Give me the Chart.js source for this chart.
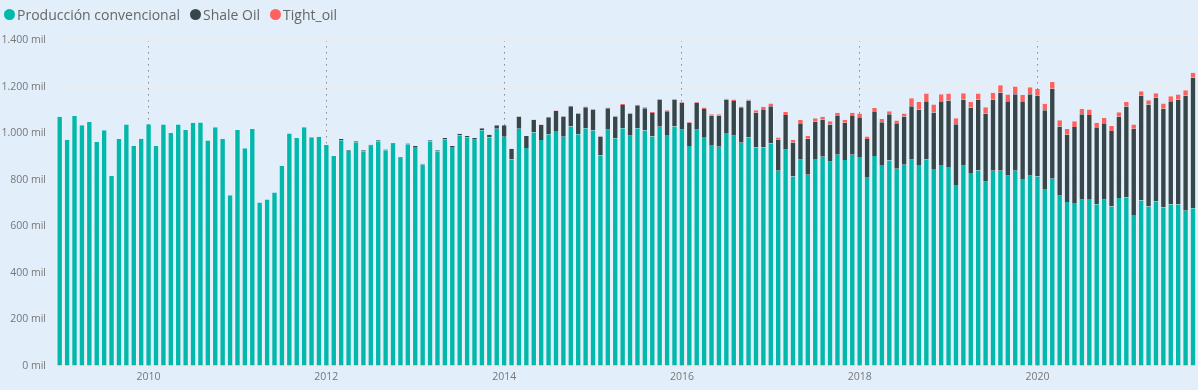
<!DOCTYPE html>
<html>
<head>
<meta charset="utf-8">
<script src="https://cdn.jsdelivr.net/npm/chart.js@4.4.0/dist/chart.umd.min.js"></script>
<style>
  html, body { margin:0; padding:0; background:#E2EEFA; }
  #wrap { position:relative; width:1198px; height:390px; }
  #legend { position:absolute; top:5px; left:4px; font-family:"Open Sans", sans-serif; font-size:14px; color:#666; display:flex; align-items:center; white-space:nowrap; }
  #legend span.item { display:flex; align-items:center; margin-right:10px; }
  #legend span.dot { width:11px; height:11px; border-radius:50%; display:inline-block; margin-right:2px; }
</style>
</head>
<body>
<div id="wrap">
  <canvas id="c" width="1198" height="390"></canvas>
  <div id="legend"></div>
</div>
<script>
// ---- Data (thousands), monthly from Jan 2009 ----
const startYear = 2009;
const seriesNames = ["Producción convencional", "Shale Oil", "Tight_oil"];
const seriesColors = ["#01B8AA", "#374649", "#FD625E"];

const convencional = [
  1070, 971, 1074, 1034, 1048, 962, 1012, 816, 975, 1037, 945, 976,
  1038, 945, 1037, 1001, 1037, 1014, 1045, 1046, 968, 1025, 975, 733,
  1014, 935, 1018, 702, 715, 745, 859, 998, 979, 1025, 982, 985,
  949, 902, 970, 924, 961, 922, 946, 965, 926, 954, 893, 952,
  941, 865, 964, 921, 974, 940, 991, 982, 972, 1012, 981, 1019,
  985, 887, 1019, 936, 1003, 971, 995, 1009, 985, 1028, 995, 1021,
  1011, 904, 1015, 978, 1021, 989, 1021, 1011, 986, 1027, 992, 1029,
  1015, 945, 1015, 983, 949, 942, 1001, 989, 959, 982, 938, 938,
  956, 839, 929, 814, 886, 821, 889, 899, 877, 907, 885, 907,
  898, 812, 902, 863, 883, 847, 864, 886, 863, 888, 846, 863,
  855, 777, 860, 829, 840, 791, 839, 839, 817, 839, 803, 817,
  814, 760, 804, 731, 704, 700, 714, 717, 695, 714, 685, 721,
  724, 648, 711, 685, 708, 681, 694, 694, 667, 677
];
const shaleOil = [
  0, 0, 0, 0, 0, 0, 0, 0, 0, 0, 0, 0,
  0, 0, 0, 0, 0, 0, 0, 0, 0, 0, 0, 0,
  0, 0, 0, 0, 0, 0, 0, 0, 0, 0, 0, 0,
  0, 0, 5, 4, 4, 4, 4, 4, 4, 4, 4, 4,
  4, 4, 5, 5, 5, 5, 6, 6, 7, 9, 12, 15,
  49, 46, 52, 52, 54, 64, 73, 86, 86, 87, 89, 90,
  90, 82, 92, 94, 100, 94, 96, 96, 101, 116, 102, 114,
  115, 100, 115, 121, 126, 133, 142, 149, 149, 158, 150, 165,
  159, 134, 149, 146, 157, 155, 160, 159, 160, 167, 160, 167,
  170, 163, 189, 184, 198, 195, 207, 229, 238, 249, 243, 274,
  285, 261, 284, 281, 303, 292, 306, 335, 320, 328, 331, 350,
  347, 338, 387, 298, 289, 326, 367, 361, 327, 328, 324, 349,
  390, 371, 450, 438, 445, 424, 443, 449, 494, 562
];
const tightOil = [
  0, 0, 0, 0, 0, 0, 0, 0, 0, 0, 0, 0,
  0, 0, 0, 0, 0, 0, 0, 0, 0, 0, 0, 0,
  0, 0, 0, 0, 0, 0, 0, 0, 0, 0, 0, 0,
  0, 0, 0, 0, 0, 0, 0, 0, 0, 0, 0, 0,
  0, 0, 0, 0, 0, 0, 0, 0, 0, 0, 0, 0,
  0, 0, 0, 0, 2, 2, 2, 2, 3, 3, 3, 3,
  3, 3, 3, 3, 4, 4, 5, 4, 4, 4, 4, 4,
  5, 4, 5, 6, 6, 6, 5, 6, 6, 5, 10, 10,
  12, 8, 13, 12, 14, 13, 15, 12, 14, 14, 13, 14,
  16, 11, 17, 14, 13, 12, 13, 35, 33, 33, 34, 30,
  30, 26, 27, 25, 27, 28, 29, 32, 29, 33, 30, 30,
  29, 28, 29, 26, 25, 25, 23, 23, 23, 23, 22, 20,
  20, 18, 19, 18, 18, 22, 21, 23, 23, 20
];
const yTicks = [0, 200, 400, 600, 800, 1000, 1200, 1400];
const yearTickLabels = ["2010", "2012", "2014", "2016", "2018", "2020"];

// ---- Categories (months) ----
const categories = convencional.map((_, i) => {
  const y = startYear + Math.floor(i / 12);
  const m = (i % 12) + 1;
  return y + "-" + String(m).padStart(2, "0");
});
const isYearTick = (i) => {
  const c = categories[i];
  return c && c.endsWith("-01") && yearTickLabels.includes(c.slice(0, 4));
};

function fmt(v) {
  const s = String(v);
  const t = s.length > 3 ? s.slice(0, s.length - 3) + "." + s.slice(s.length - 3) : s;
  return t + " mil";
}

// ---- Legend ----
const lg = document.getElementById("legend");
seriesNames.forEach((n, i) => {
  const it = document.createElement("span");
  it.className = "item";
  it.innerHTML = '<span class="dot" style="background:' + seriesColors[i] + '"></span>' + n;
  lg.appendChild(it);
});

const seriesData = [convencional, shaleOil, tightOil];
new Chart(document.getElementById("c"), {
  type: "bar",
  data: {
    labels: categories,
    datasets: seriesData.map((d, i) => ({
      label: seriesNames[i],
      data: d,
      backgroundColor: seriesColors[i],
      borderColor: "rgba(255,255,255,0.35)",
      borderWidth: { left: 1, right: 1, top: 0, bottom: 0 },
      borderSkipped: false,
      categoryPercentage: 0.86,
      barPercentage: 1.0
    }))
  },
  options: {
    responsive: false,
    animation: false,
    layout: { padding: { top: 40, right: 0, left: 0, bottom: 0 } },
    plugins: { legend: { display: false }, tooltip: { enabled: false } },
    scales: {
      x: {
        stacked: true,
        afterFit: (s) => { s.height = 24; },
        grid: {
          offset: false,
          drawTicks: false,
          color: (ctx) => isYearTick(ctx.index) ? "#8a8a8a" : "rgba(0,0,0,0)",
          lineWidth: 1
        },
        border: { display: false, dash: [1.5, 4.5] },
        ticks: {
          autoSkip: false,
          maxRotation: 0,
          padding: 5,
          color: "#777",
          font: { family: "Open Sans", size: 10.5 },
          callback: (v, i) => isYearTick(i) ? categories[i].slice(0, 4) : ""
        }
      },
      y: {
        stacked: true,
        min: 0,
        max: 1400,
        afterFit: (s) => { s.width = 56; },
        afterBuildTicks: (s) => { s.ticks = yTicks.map(v => ({ value: v })); },
        grid: { drawTicks: false, color: "#E9EBEE", lineWidth: 1 },
        border: { display: false },
        ticks: {
          padding: 10,
          color: "#777",
          font: { family: "Open Sans", size: 10.5 },
          callback: (v) => fmt(v)
        }
      }
    }
  }
});
</script>
</body>
</html>
